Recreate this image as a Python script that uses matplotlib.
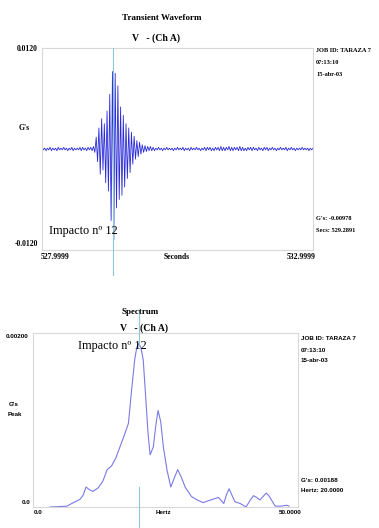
import numpy as np
import matplotlib
matplotlib.use("Agg")
from matplotlib import pyplot as plt

W, H = 379, 528

# transient waveform, sampled every 0.025 s from 528.0 s
t0 = 528.0
dt = 0.025
wave_pre = [0.0002, -0.0001, 0.0001, -0.0002, 0.0001, -0.0001, 0.0002, -0.0002, 0.0001, -0.0001,
            0.0001, -0.0002, 0.0002, -0.0001, 0.0001, -0.0001, 0.0002, -0.0001, 0.0001, -0.0002,
            0.0001, -0.0001, 0.0002, -0.0002, 0.0001, -0.0001, 0.0001, -0.0001, 0.0002, -0.0002,
            0.0002, -0.0001, 0.0001, -0.0002, 0.0002, -0.0001, 0.0002, -0.0002, 0.0003, -0.0004]
wave_burst = [0.0014, -0.0015, 0.0025, -0.0030, 0.0036, -0.0025, 0.0030, -0.0040, 0.0045, -0.0050,
              0.0065, -0.0085, 0.0092, -0.0108, 0.0090, -0.0070, 0.0075, -0.0060, 0.0050, -0.0055,
              0.0040, -0.0045, 0.0030, -0.0035, 0.0025, -0.0028, 0.0020, -0.0018, 0.0015, -0.0012,
              0.0010, -0.0009, 0.0008, -0.0006, 0.0005, -0.0004, 0.0004, -0.0003, 0.0003, -0.0002]
wave_tail = [0.0003, -0.0002, 0.0002, -0.0002, 0.0001, -0.0001, 0.0002, -0.0001, 0.0001, -0.0002,
             0.0001, -0.0001, 0.0002, -0.0001, 0.0001, -0.0001, 0.0001, -0.0002, 0.0001, -0.0001,
             0.0002, -0.0001, 0.0001, -0.0001, 0.0002, -0.0002, 0.0001, -0.0001, 0.0001, -0.0002,
             0.0002, -0.0001, 0.0001, -0.0001, 0.0002, -0.0001, 0.0001, -0.0002, 0.0001, -0.0001,
             0.0002, -0.0002, 0.0002, -0.0001, 0.0002, -0.0002, 0.0001, -0.0002, 0.0002, -0.0001,
             0.0002, -0.0002, 0.0003, -0.0002, 0.0002, -0.0002, 0.0002, -0.0001, 0.0003, -0.0002,
             0.0002, -0.0002, 0.0002, -0.0001, 0.0002, -0.0002, 0.0003, -0.0002, 0.0002, -0.0002,
             0.0001, -0.0002, 0.0002, -0.0001, 0.0002, -0.0002, 0.0002, -0.0001, 0.0001, -0.0002,
             0.0002, -0.0001, 0.0001, -0.0002, 0.0002, -0.0001, 0.0002, -0.0002, 0.0001, -0.0001,
             0.0002, -0.0001, 0.0001, -0.0002, 0.0001, -0.0001, 0.0002, -0.0001, 0.0001, -0.0001,
             0.0002, -0.0002, 0.0001, -0.0001, 0.0002, -0.0001, 0.0001, -0.0002, 0.0001, -0.0001,
             0.0001, -0.0001, 0.0002, -0.0001, 0.0001, -0.0001, 0.0001, -0.0002, 0.0001, -0.0001,
             0.0001]

# spectrum points
freq = [3.2, 5.0, 6.4, 7.3, 8.9, 9.5, 10.0, 10.6, 11.3, 12.3, 13.2, 14.0, 14.8, 15.6, 16.4,
        17.2, 18.0, 18.6, 19.2, 19.6, 20.0, 20.4, 20.8, 21.3, 21.7, 22.1, 22.7, 23.2, 23.6,
        24.1, 24.6, 25.3, 26.0, 26.7, 27.3, 28.0, 28.7, 29.9, 31.0, 32.1, 33.0, 34.0, 35.0,
        36.0, 36.5, 37.0, 37.5, 38.1, 39.1, 40.2, 41.0, 41.6, 42.2, 42.8, 43.4, 44.0, 44.5,
        45.0, 45.7, 46.8, 47.9, 48.3]
amp = [0.0, 0.000005, 0.00001, 0.00004, 0.00009, 0.00014, 0.00023, 0.00020, 0.00018, 0.00022,
       0.00030, 0.00043, 0.00047, 0.00056, 0.00069, 0.00082, 0.00096, 0.00134, 0.00170, 0.00184,
       0.00188, 0.00182, 0.00169, 0.00123, 0.00085, 0.00060, 0.00069, 0.00095, 0.00111,
       0.00098, 0.00069, 0.00042, 0.00023, 0.00034, 0.00043, 0.00034, 0.00023, 0.00012, 0.00008,
       0.00005, 0.00007, 0.00009, 0.00011, 0.00004, 0.00014, 0.00021, 0.00014, 0.00006, 0.00004,
       0.0, 0.00008, 0.00013, 0.00011, 0.00008, 0.00012, 0.00016, 0.00013, 0.00008, 0.00001,
       0.00001, 0.00002, 0.00001]

wave = np.array(wave_pre + wave_burst + wave_tail)
t = t0 + dt * np.arange(len(wave))

serif = ["Liberation Serif", "DejaVu Serif"]
sans = ["Liberation Sans", "DejaVu Sans"]
cursor_col = "#8cc8d8"
box_col = "#d8d8d8"


def fx(x):
    return x / W


def fy(y):
    return 1 - y / H


fig = plt.figure(figsize=(W / 100, H / 100), dpi=100)
fig.patch.set_facecolor("white")

# ---- transient waveform ----
ax1 = fig.add_axes([fx(42), fy(250), 271 / W, 202 / H])
ax1.plot(t, wave, color="#2a2ad8", lw=0.6)
ax1.set_xlim(527.9999, 532.9999)
ax1.set_ylim(-0.0120, 0.0120)
ax1.set_xticks([])
ax1.set_yticks([])
for s in ax1.spines.values():
    s.set_color(box_col)
    s.set_linewidth(0.8)

fig.text(fx(162), fy(18), "Transient Waveform", family=serif, weight="bold", fontsize=6.5,
         ha="center", va="center")
fig.text(fx(156), fy(38), "V   - (Ch A)", family=serif, weight="bold", fontsize=7,
         ha="center", va="center")
fig.text(fx(27), fy(49), "0.0120", family=serif, weight="bold", fontsize=5.5, ha="center", va="center")
fig.text(fx(24), fy(128), "G's", family=serif, weight="bold", fontsize=5.5, ha="center", va="center")
fig.text(fx(26), fy(244), "-0.0120", family=serif, weight="bold", fontsize=5.5, ha="center", va="center")
fig.text(fx(55), fy(257), "527.9999", family=serif, weight="bold", fontsize=5.5, ha="center", va="center")
fig.text(fx(177), fy(257), "Seconds", family=serif, weight="bold", fontsize=5.5, ha="center", va="center")
fig.text(fx(301), fy(257), "532.9999", family=serif, weight="bold", fontsize=5.5, ha="center", va="center")
for y, s in [(50, "JOB ID: TARAZA 7"), (62, "07:13:10"), (75, "15-abr-03"),
             (219, "G's: -0.00978"), (231, "Secs: 529.2891")]:
    fig.text(fx(316), fy(y), s, family=serif, weight="bold", fontsize=4.6, ha="left", va="center")
fig.text(fx(49), fy(231), "Impacto nº 12", family=serif, fontsize=8.8, ha="left", va="center")
fig.add_artist(plt.Line2D([fx(113), fx(113)], [fy(48), fy(275)], color=cursor_col, lw=0.8))

# ---- spectrum ----
ax2 = fig.add_axes([fx(33), fy(507), 265 / W, 174 / H])
ax2.plot(freq, amp, color="#7a7ae6", lw=0.8)
ax2.set_xlim(0, 50)
ax2.set_ylim(0, 0.002)
ax2.set_xticks([])
ax2.set_yticks([])
for s in ax2.spines.values():
    s.set_color(box_col)
    s.set_linewidth(0.8)

fig.text(fx(140), fy(312), "Spectrum", family=serif, weight="bold", fontsize=6.5,
         ha="center", va="center")
fig.text(fx(144), fy(328), "V   - (Ch A)", family=serif, weight="bold", fontsize=7,
         ha="center", va="center")
fig.text(fx(17), fy(336), "0.00200", family=sans, weight="bold", fontsize=4.5, ha="center", va="center")
fig.text(fx(14), fy(404), "G's", family=sans, weight="bold", fontsize=4.5, ha="center", va="center")
fig.text(fx(15), fy(415), "Peak", family=sans, weight="bold", fontsize=4.5, ha="center", va="center")
fig.text(fx(26), fy(502), "0.0", family=sans, weight="bold", fontsize=4.5, ha="center", va="center")
fig.text(fx(38), fy(512), "0.0", family=sans, weight="bold", fontsize=4.5, ha="center", va="center")
fig.text(fx(163), fy(512), "Hertz", family=sans, weight="bold", fontsize=4.5, ha="center", va="center")
fig.text(fx(290), fy(512), "50.0000", family=sans, weight="bold", fontsize=4.5, ha="center", va="center")
for y, s in [(339, "JOB ID: TARAZA 7"), (350, "07:13:10"), (361, "15-abr-03"),
             (481, "G's: 0.00188"), (491, "Hertz: 20.0000")]:
    fig.text(fx(301), fy(y), s, family=sans, weight="bold", fontsize=4.5, ha="left", va="center")
fig.text(fx(78), fy(346), "Impacto nº 12", family=serif, fontsize=8.8, ha="left", va="center")
fig.add_artist(plt.Line2D([fx(139), fx(139)], [fy(310), fy(346)], color=cursor_col, lw=0.8))
fig.add_artist(plt.Line2D([fx(139), fx(139)], [fy(487), fy(528)], color=cursor_col, lw=0.8))

fig.savefig("out.png", dpi=100, facecolor="white")
